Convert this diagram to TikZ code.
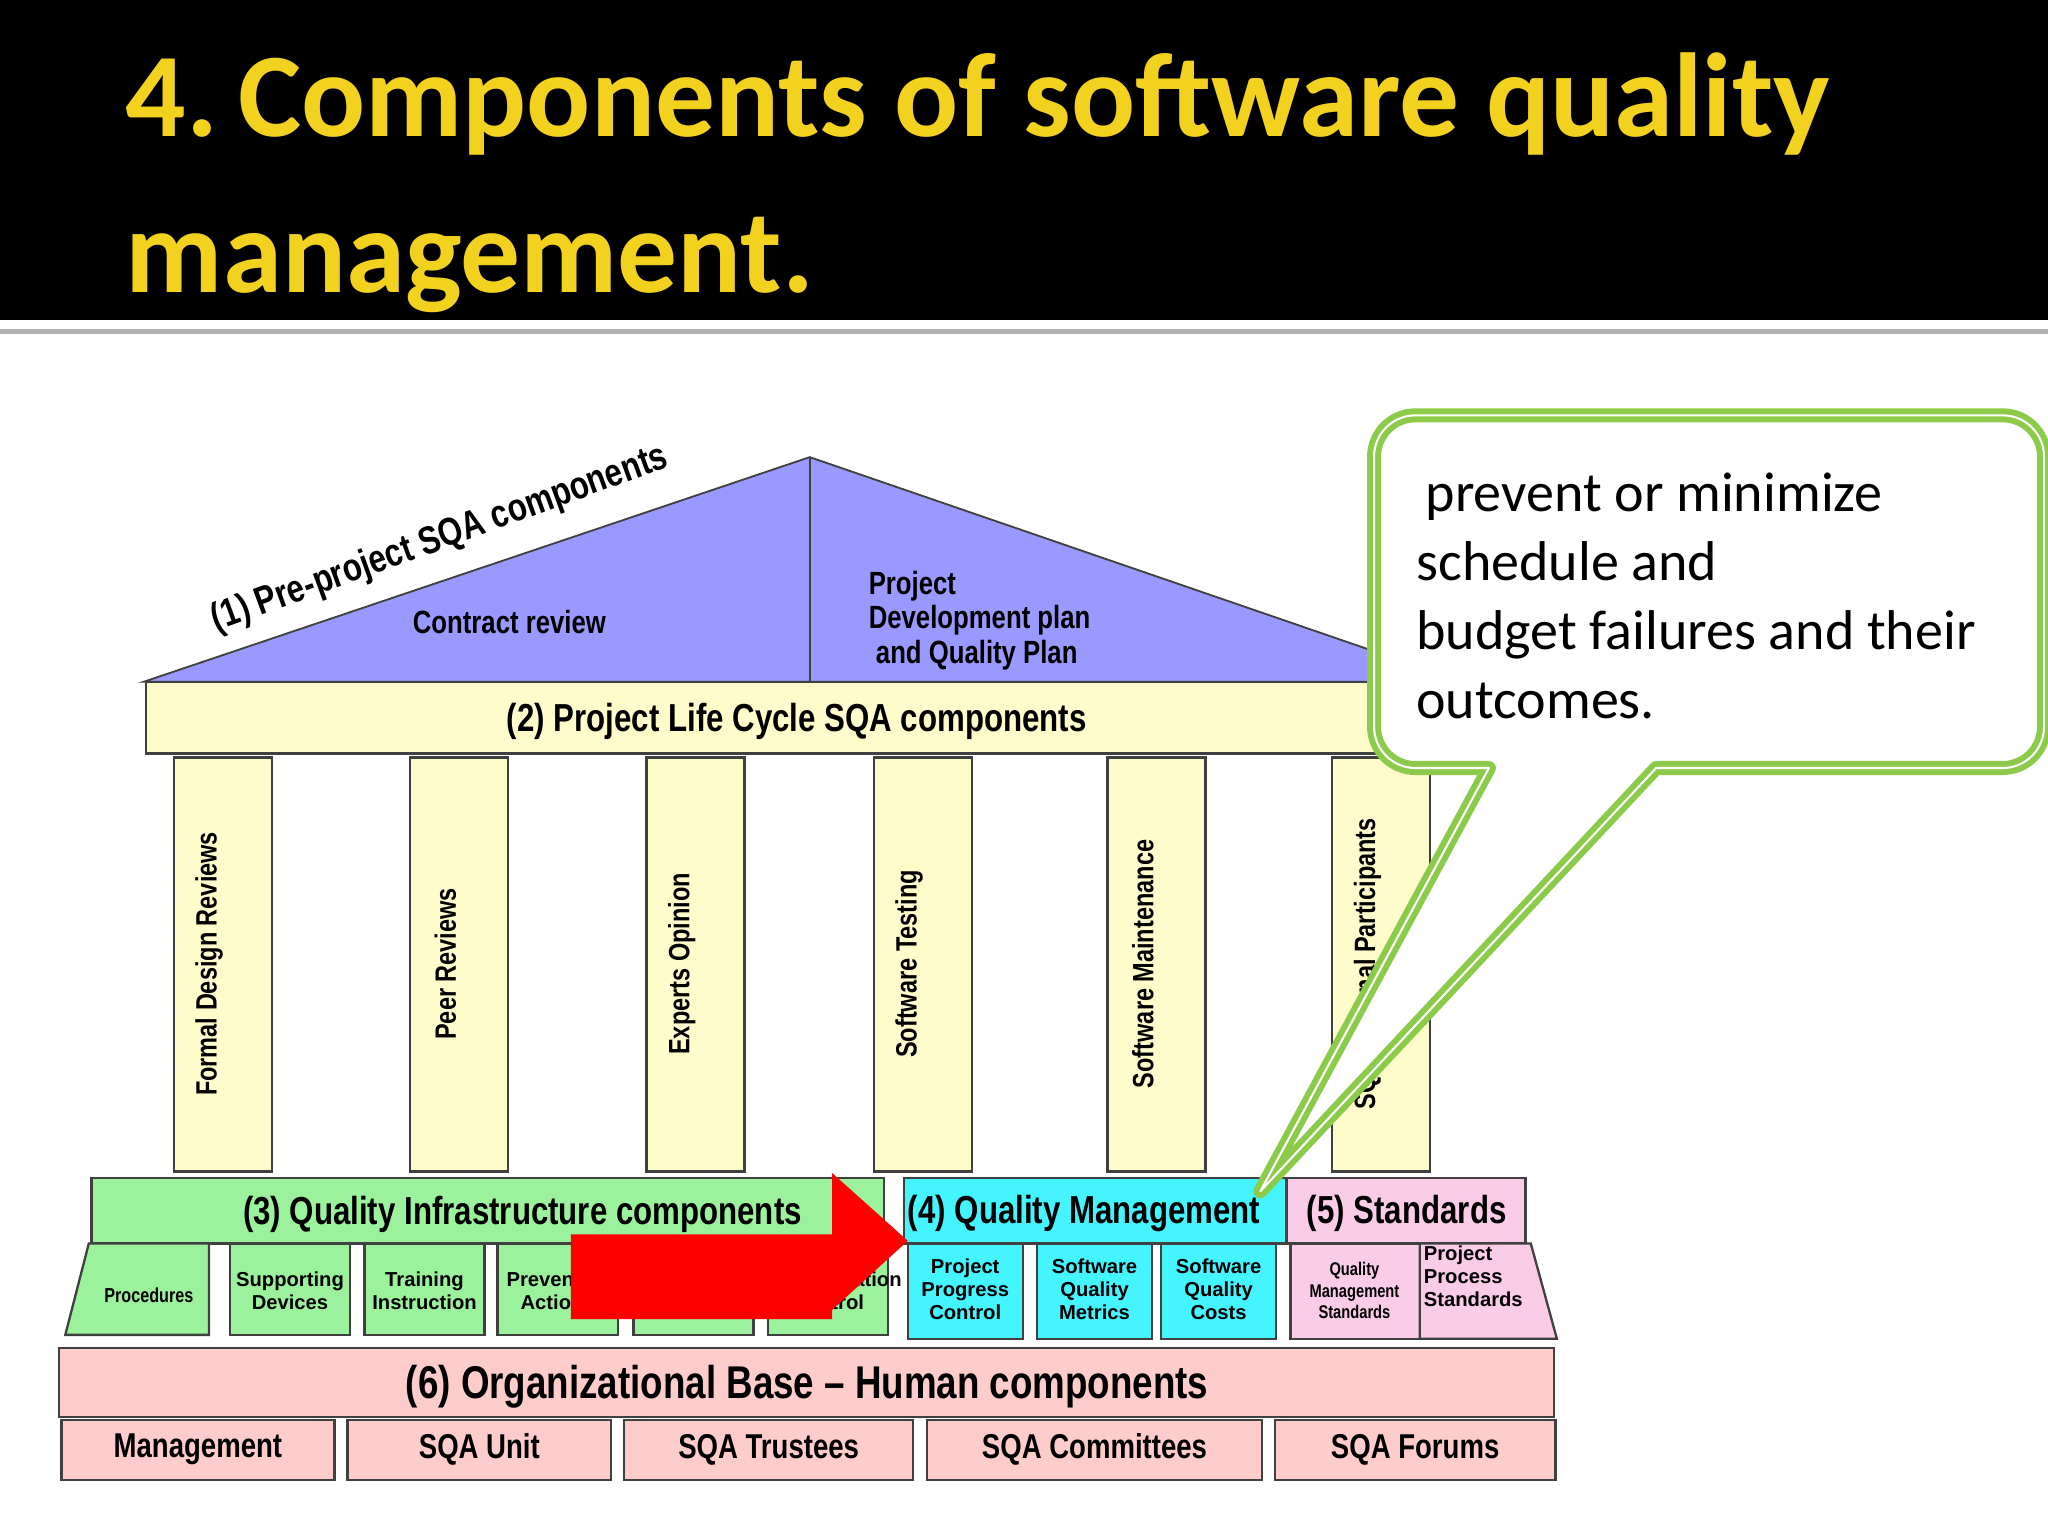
\documentclass[tikz,border=0pt]{standalone}
\usepackage{fontspec}
\setmainfont{Liberation Sans}
\newfontfamily\calfont{Carlito}
\newcommand{\nar}[1]{\scalebox{0.8}[1]{#1}}
\definecolor{callg}{HTML}{8CCB4A}
\definecolor{qcyan}{HTML}{44F4FF}
\definecolor{qgreen}{HTML}{9CF29C}
\definecolor{ttl}{HTML}{F2D21E}
\begin{document}
\begin{tikzpicture}[x=0.01cm,y=-0.01cm,
  bx/.style={draw=black!75,line width=0.5pt},
  lab/.style={font=\bfseries\fontsize{8.5}{9}\selectfont,align=center},
  sm/.style={font=\bfseries\fontsize{4.4}{5}\selectfont,align=center},
  pil/.style={font=\bfseries\fontsize{6.4}{7}\selectfont,rotate=90},
  org/.style={font=\bfseries\fontsize{7.5}{8}\selectfont}]
\useasboundingbox (0,0) rectangle (1568,1176);
\fill[black] (0,0) rectangle (1568,245);
\fill[gray!60] (0,252) rectangle (1568,256);
\node[anchor=west,text=ttl,font=\calfont\bfseries\fontsize{26}{34}\selectfont,align=left] (title) at (84,140) {4.\,Components of software quality\\management.};
% roof
\filldraw[fill=blue!40,draw=black!75] (110,522) -- (620,350) -- (1120,522) -- cycle;
\draw[black!75] (620,350) -- (620,522);
\node[rotate=20,font=\bfseries\fontsize{8.5}{9}\selectfont] (pre) at (337,413) {\nar{(1) Pre-project SQA components}};
\node[font=\bfseries\fontsize{7}{8}\selectfont] (cr) at (390,476) {\nar{Contract review}};
\node[font=\bfseries\fontsize{7}{7.5}\selectfont,align=left] (pd) at (750,475) {\nar{Project}\\\nar{Development plan}\\\nar{ and Quality Plan}};
% beam
\filldraw[bx,fill=yellow!20] (112,522) rectangle (1090,577);
\node[lab] (beam) at (610,552) {\nar{(2) Project Life Cycle SQA components}};
% pillars
\foreach \a/\t in {133/Formal Design Reviews,314/Peer Reviews,495/Experts Opinion,669/Software Testing,848/Software Maintenance,1020/SQA External Participants}{
  \filldraw[bx,fill=yellow!20] (\a,580) rectangle ++(75,317);
  \node[pil] at (\a+27,738) {\nar{\t}};}
% (3)
\filldraw[bx,fill=qgreen] (70,902) rectangle (677,952);
\node[lab] (qi) at (400,930) {\nar{(3) Quality Infrastructure components}};
\filldraw[bx,fill=qgreen] (68,952) -- (160,952) -- (160,1022) -- (50,1022) -- cycle;
\node[sm] at (114,992) {\nar{Procedures}};
\foreach \a/\t in {176/Supporting\\Devices,279/Training\\Instruction,381/Preventive\\Actions,485/Configuration\\Management,588/Documentation\\Control}{
  \filldraw[bx,fill=qgreen] (\a,952) rectangle ++(92,70);
  \node[sm] at (\a+46,988) {\t};}
% (4)
\filldraw[bx,fill=qcyan] (692,902) rectangle (985,952);
\node[lab] (qm) at (830,929) {\nar{(4) Quality Management}};
\foreach \a/\t in {695/Project\\Progress\\Control,794/Software\\Quality\\Metrics,889/Software\\Quality\\Costs}{
  \filldraw[bx,fill=qcyan] (\a,952) rectangle ++(88,73);
  \node[sm] at (\a+44,987) {\t};}
% (5)
\filldraw[bx,fill=magenta!20] (985,902) rectangle (1168,952);
\node[lab] (st) at (1077,929) {\nar{(5) Standards}};
\filldraw[bx,fill=magenta!20] (988,952) rectangle (1087,1025);
\filldraw[bx,fill=magenta!20] (1087,952) -- (1172,952) -- (1192,1025) -- (1087,1025) -- cycle;
\node[sm,font=\bfseries\fontsize{4}{4.6}\selectfont] at (1037,988) {\nar{Quality}\\\nar{Management}\\\nar{Standards}};
\node[sm,align=left] at (1128,977) {Project\\Process\\Standards};
% (6)
\filldraw[bx,fill=red!20] (45,1032) rectangle (1190,1085);
\node[font=\bfseries\fontsize{10}{11}\selectfont] (ob) at (618,1062) {\nar{(6) Organizational Base -- Human components}};
\foreach \a/\b/\t in {47/256/Management,266/468/SQA Unit,478/699/SQA Trustees,710/966/SQA Committees,976/1191/SQA Forums}{
  \filldraw[bx,fill=red!20] (\a,1087) rectangle (\b,1133);
  \node[org] at ({(\a+\b)/2},1110) {\nar{\t}};}
% red arrow
\fill[red] (437,945) -- (637,945) -- (637,898) -- (695,950) -- (637,1003) -- (637,1010) -- (437,1010) -- cycle;
% callout
\filldraw[fill=white,draw=callg,line width=1.3pt,double=white,double distance=0.45pt,line join=round]
  (1140,588) [rounded corners=9pt] -- (1052,588) -- (1052,318) -- (1565,318) -- (1565,588) [sharp corners] -- (1268,588) -- (965,912) -- cycle;
\node[anchor=north west,font=\calfont\fontsize{12.2}{15}\selectfont,align=left] (co) at (1072,350) {\,prevent or minimize\\schedule and\\budget failures and their\\outcomes.};
\end{tikzpicture}
\end{document}
